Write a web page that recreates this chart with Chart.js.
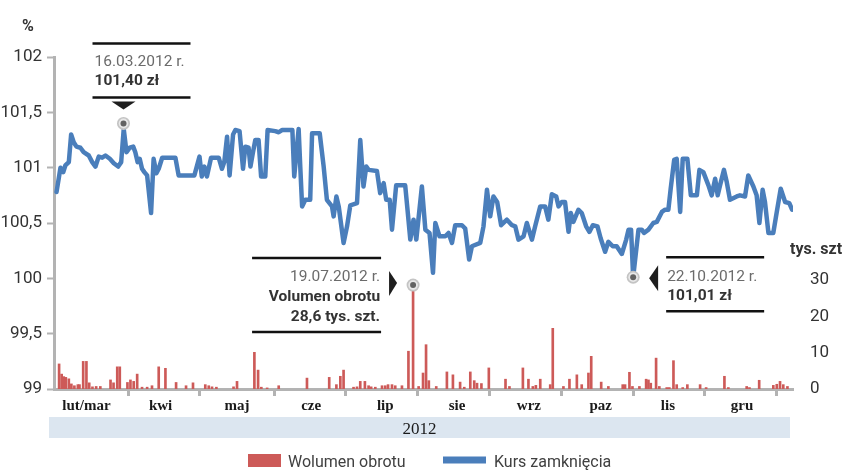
<!DOCTYPE html>
<html>
<head>
<meta charset="utf-8">
<script src="https://cdn.jsdelivr.net/npm/chart.js@4.4.1/dist/chart.umd.min.js"></script>
<style>
  body { margin: 0; background: #fff; }
  #wrap { width: 843px; height: 472px; }
</style>
</head>
<body>
<div id="wrap"><canvas id="wykres" width="843" height="472"></canvas></div>
<script>
// dzień roku 2012 (0 = 1 stycznia) i kurs zamknięcia w %
const kursDni = [
  46.1, 47.8, 49.0, 49.9, 51.4, 52.4, 53.5, 54.7, 56.4, 57.8,
  60.0, 61.5, 62.9, 64.3, 65.8, 67.2, 69.1, 70.8, 72.7, 74.0,
  75.1, 76.3, 77.7, 79.2, 80.1, 81.1, 82.0, 83.0, 84.0, 85.2,
  86.9, 88.0, 89.2, 90.2, 91.7, 97.4, 98.8, 105.6, 107.8, 108.8,
  109.9, 111.0, 112.8, 116.1, 117.5, 118.5, 119.7, 120.8, 122.3, 123.3,
  125.1, 126.6, 127.6, 129.0, 129.8, 130.9, 131.9, 133.3, 134.4, 136.2,
  137.2, 140.5, 142.0, 143.4, 147.9, 148.7, 150.6, 151.3, 152.1, 153.5,
  155.6, 156.4, 159.7, 161.4, 162.8, 165.0, 165.7, 166.9, 167.9, 170.0,
  171.5, 172.9, 175.8, 177.2, 178.6, 179.8, 180.8, 184.4, 185.8, 187.3,
  188.4, 189.9, 190.9, 192.7, 196.6, 197.6, 198.8, 200.2, 201.4, 203.8,
  205.3, 207.1, 208.6, 209.6, 211.4, 213.9, 215.3, 216.8, 218.2, 221.1,
  222.5, 224.2, 225.4, 229.0, 230.4, 231.9, 233.3, 234.7, 236.3, 238.0,
  240.5, 242.7, 244.1, 245.5, 247.7, 249.1, 251.3, 252.7, 254.9, 257.0,
  258.4, 259.9, 261.8, 262.8, 264.2, 265.6, 267.1, 268.1, 269.2, 271.4,
  272.8, 274.7, 276.1, 277.6, 279.6, 281.0, 282.9, 284.3, 286.2, 287.9,
  290.1, 292.0, 293.0, 294.1, 295.0, 297.3, 298.7, 299.7, 301.6, 303.7,
  305.2, 307.4, 308.8, 310.2, 311.2, 312.7, 313.8, 315.3, 316.4, 318.4,
  319.9, 322.5, 323.6, 325.3, 327.5, 328.9, 330.4, 331.5, 332.5, 334.2,
  335.4, 336.8, 339.7, 341.1, 343.3, 344.7, 346.9, 348.3, 349.5, 350.9,
  351.9, 353.4, 355.5, 357.0, 358.7, 360.6, 362.4, 363.6
];
const kursWartosci = [
  100.78, 101.00, 100.96, 101.02, 101.05, 101.30, 101.23, 101.19, 101.18, 101.14,
  101.11, 101.05, 101.01, 101.10, 101.09, 101.11, 101.08, 101.04, 101.01, 101.05,
  101.35, 101.14, 101.18, 101.19, 101.14, 101.05, 101.08, 100.99, 100.96, 100.93,
  100.59, 101.08, 100.95, 100.99, 101.09, 101.09, 100.93, 100.93, 101.10, 100.92,
  101.01, 100.92, 101.09, 101.09, 100.99, 101.05, 101.28, 100.93, 101.30, 101.34,
  101.33, 100.99, 101.19, 101.18, 101.01, 101.14, 101.25, 101.25, 100.92, 100.92,
  101.34, 101.33, 101.32, 101.34, 101.34, 100.92, 101.35, 101.01, 100.65, 100.71,
  100.71, 101.31, 101.31, 101.01, 100.71, 100.65, 100.56, 100.74, 100.65, 100.32,
  100.47, 100.66, 100.68, 101.25, 100.83, 101.01, 100.98, 100.97, 100.77, 100.86,
  100.71, 100.71, 100.44, 100.84, 100.84, 100.62, 100.35, 100.53, 100.35, 100.83,
  100.44, 100.41, 100.05, 100.50, 100.38, 100.38, 100.41, 100.32, 100.48, 100.48,
  100.45, 100.17, 100.29, 100.32, 100.47, 100.80, 100.56, 100.74, 100.69, 100.48,
  100.53, 100.48, 100.47, 100.35, 100.38, 100.50, 100.35, 100.47, 100.65, 100.65,
  100.53, 100.76, 100.74, 100.65, 100.69, 100.69, 100.42, 100.59, 100.51, 100.62,
  100.59, 100.47, 100.42, 100.48, 100.47, 100.36, 100.24, 100.33, 100.29, 100.29,
  100.22, 100.35, 100.44, 100.44, 100.01, 100.44, 100.44, 100.41, 100.44, 100.50,
  100.51, 100.60, 100.62, 100.62, 100.81, 101.07, 101.08, 100.60, 101.08, 101.08,
  100.75, 100.75, 100.98, 100.96, 100.84, 100.75, 100.90, 100.75, 100.84, 100.98,
  100.87, 100.71, 100.74, 100.75, 100.74, 100.93, 100.83, 100.75, 100.50, 100.80,
  100.69, 100.41, 100.41, 100.60, 100.81, 100.69, 100.68, 100.62
];

// wolumen obrotu, tys. szt.
const wolumenDni = [
  47.2, 48.3, 49.2, 50.1, 51.4, 52.5, 53.8, 55.3, 56.0, 57.6,
  59.0, 60.2, 61.6, 63.2, 65.0, 69.4, 70.7, 72.3, 73.4, 76.7,
  78.0, 79.4, 80.9, 83.0, 85.2, 87.3, 90.2, 93.1, 97.7, 102.0,
  105.0, 110.3, 111.8, 113.2, 115.1, 122.5, 124.0, 131.5, 133.1, 134.5,
  137.0, 142.0, 154.2, 163.8, 166.9, 168.6, 170.0, 174.3, 175.8, 177.2,
  179.2, 180.8, 181.9, 183.7, 186.6, 188.0, 189.2, 190.9, 192.3, 195.2,
  198.0, 200, 202.4, 204.3, 205.6, 206.8, 210.0, 214.6, 217.2, 220.3,
  222.1, 224.7, 226.4, 227.6, 229.5, 232.7, 239.9, 241.6, 247.4, 249.8,
  251.7, 253.0, 254.9, 259.2, 260.3, 264.9, 267.5, 270.7, 272.8, 275.7,
  276.9, 281.2, 284.3, 290.5, 291.5, 293.4, 294.7, 297.7, 300.6, 301.6,
  302.6, 304.9, 306.3, 309.5, 310.6, 312.4, 313.8, 316.4, 318.4, 323.9,
  326.5, 334.4, 336.1, 344.0, 345.2, 349.4, 355.5, 357.0, 358.4, 359.8,
  361.6
];
const wolumenWartosci = [
  6.9, 4.1, 3.4, 3.2, 2.8, 1.4, 0.9, 1.2, 1.2, 7.6,
  7.6, 1.7, 0.6, 0.7, 0.7, 2.5, 1.7, 6.1, 6.1, 1.8,
  2.5, 2.1, 4.1, 0.5, 0.5, 0.9, 6.1, 5.7, 1.8, 0.9,
  1.7, 1.2, 0.9, 0.6, 0.5, 0.6, 2.1, 10.1, 5.2, 0.5,
  0.3, 0.9, 3.0, 3.2, 1.2, 3.5, 5.2, 0.5, 0.6, 2.1,
  2.1, 0.9, 0.6, 0.5, 0.9, 0.9, 1.2, 1.2, 0.9, 0.9,
  10.4, 28.6, 0.7, 4.4, 12.2, 2.3, 0.7, 4.7, 3.9, 1.9,
  0.5, 4.7, 2.3, 1.6, 1.5, 5.8, 2.7, 0.7, 5.8, 2.7,
  0.7, 1.0, 2.7, 1.2, 16.7, 0.7, 2.7, 3.9, 1.2, 4.4,
  9.0, 1.9, 0.7, 1.2, 1.2, 4.6, 0.7, 0.7, 2.7, 2.5,
  1.6, 8.5, 0.7, 0.4, 0.4, 7.8, 1.2, 0.4, 1.2, 1.2,
  0.4, 3.5, 0.4, 0.7, 0.4, 2.4, 1.0, 1.3, 2.1, 1.2,
  0.7
];

// oś X: kreski podziałki i nazwy miesięcy między nimi
const granicePodzialki = [77, 108, 140, 171, 202, 233, 264, 295, 326, 357];
const miesiace = ['lut/mar', 'kwi', 'maj', 'cze', 'lip', 'sie', 'wrz', 'paz', 'lis', 'gru'];
const miesiaceDni = [59, 91, 124, 156, 188, 219, 250, 281, 310, 342];
const prawaOsTicks = [0, 10, 20, 30];

// opisane punkty
const notaMarzec = { dzien: 75, kurs: 101.40, data: '16.03.2012 r.', opis: ['101,40 zł'] };
const notaLipiec = { dzien: 200, wolumen: 28.6, data: '19.07.2012 r.', opis: ['Volumen obrotu', '28,6 tys. szt.'] };
const notaPazdziernik = { dzien: 295, kurs: 100.01, data: '22.10.2012 r.', opis: ['101,01 zł'] };

const NIEBIESKI = '#4a7ebb';
const CZERWONY = '#cd5a58';
const SZARY = '#b3b3b3';

const opisMiesiaca = new Map(miesiaceDni.map((d, i) => [d, miesiace[i]]));

function znacznik(ctx, x, y) {
  ctx.beginPath(); ctx.arc(x, y, 6.5, 0, Math.PI * 2); ctx.fillStyle = '#c4c4c4'; ctx.fill();
  ctx.beginPath(); ctx.arc(x, y, 4.8, 0, Math.PI * 2); ctx.fillStyle = '#e8e8e8'; ctx.fill();
  ctx.beginPath(); ctx.arc(x, y, 3, 0, Math.PI * 2); ctx.fillStyle = '#626262'; ctx.fill();
}

function kreska(ctx, x1, x2, y) {
  ctx.beginPath(); ctx.moveTo(x1, y); ctx.lineTo(x2, y);
  ctx.strokeStyle = '#111'; ctx.lineWidth = 2.5; ctx.stroke();
}

function trojkat(ctx, pts) {
  ctx.beginPath(); ctx.moveTo(pts[0], pts[1]); ctx.lineTo(pts[2], pts[3]); ctx.lineTo(pts[4], pts[5]);
  ctx.closePath(); ctx.fillStyle = '#1e1e1e'; ctx.fill();
}

const dodatki = {
  id: 'dodatki',
  afterDraw(chart) {
    const { ctx, chartArea: a, scales } = chart;
    const x = scales.x, y = scales.y, y2 = scales.y2;
    ctx.save();

    // jednostki osi
    ctx.fillStyle = '#333';
    ctx.font = 'bold 16px Roboto';
    ctx.textAlign = 'left';
    ctx.textBaseline = 'alphabetic';
    ctx.fillText('%', 22, a.top - 26);
    ctx.fillText('tys. szt.', a.right - 3, y2.getPixelForValue(30) - 26);

    // pasek z rokiem
    ctx.fillStyle = '#dce6f0';
    ctx.fillRect(a.left - 5, a.bottom + 28, a.right - a.left + 2, 21);
    ctx.fillStyle = '#1a1a1a';
    ctx.font = '17px "Liberation Serif"';
    ctx.textAlign = 'center';
    ctx.fillText('2012', (a.left + a.right) / 2 - 4, a.bottom + 45);

    // legenda
    ctx.textAlign = 'left';
    ctx.font = '16px Roboto';
    ctx.fillStyle = CZERWONY;
    ctx.fillRect(248, 454, 33, 13);
    ctx.fillStyle = '#404040';
    ctx.fillText('Wolumen obrotu', 288, 467);
    ctx.fillStyle = NIEBIESKI;
    ctx.fillRect(443, 456.5, 43, 7);
    ctx.fillStyle = '#404040';
    ctx.fillText('Kurs zamknięcia', 494, 467);

    // 16.03
    let px = x.getPixelForValue(notaMarzec.dzien), py = y.getPixelForValue(notaMarzec.kurs);
    kreska(ctx, px - 31, px + 67, py - 80);
    ctx.textAlign = 'left';
    ctx.font = '15.5px Roboto';
    ctx.fillStyle = '#6b6b6b';
    ctx.fillText(notaMarzec.data, px - 29, py - 57);
    ctx.font = 'bold 15.5px Roboto';
    ctx.fillStyle = '#333';
    ctx.fillText(notaMarzec.opis[0], px - 29, py - 38);
    kreska(ctx, px - 31, px + 67, py - 26);
    trojkat(ctx, [px - 12, py - 22, px + 12, py - 22, px, py - 14]);
    znacznik(ctx, px, py);

    // 19.07
    px = x.getPixelForValue(notaLipiec.dzien); py = y2.getPixelForValue(notaLipiec.wolumen);
    kreska(ctx, px - 161, px - 32, py - 27);
    ctx.textAlign = 'right';
    ctx.font = '15.5px Roboto';
    ctx.fillStyle = '#6b6b6b';
    ctx.fillText(notaLipiec.data, px - 33, py - 4);
    ctx.font = 'bold 15.5px Roboto';
    ctx.fillStyle = '#333';
    ctx.fillText(notaLipiec.opis[0], px - 33, py + 16);
    ctx.fillText(notaLipiec.opis[1], px - 33, py + 36);
    kreska(ctx, px - 161, px - 32, py + 47);
    trojkat(ctx, [px - 24, py - 14, px - 24, py + 11, px - 16, py - 2]);
    znacznik(ctx, px, py);

    // 22.10
    px = x.getPixelForValue(notaPazdziernik.dzien); py = y.getPixelForValue(notaPazdziernik.kurs);
    kreska(ctx, px + 33, px + 131, py - 20);
    ctx.textAlign = 'left';
    ctx.font = '15.5px Roboto';
    ctx.fillStyle = '#6b6b6b';
    ctx.fillText(notaPazdziernik.data, px + 34, py + 4);
    ctx.font = 'bold 15.5px Roboto';
    ctx.fillStyle = '#333';
    ctx.fillText(notaPazdziernik.opis[0], px + 34, py + 23);
    kreska(ctx, px + 33, px + 131, py + 34);
    trojkat(ctx, [px + 25, py - 12, px + 25, py + 14, px + 16, py + 1]);
    znacznik(ctx, px, py);

    ctx.restore();
  }
};

new Chart(document.getElementById('wykres'), {
  type: 'line',
  data: {
    datasets: [
      {
        label: 'Kurs zamknięcia',
        data: kursDni.map((d, i) => ({ x: d, y: kursWartosci[i] })),
        borderColor: NIEBIESKI,
        borderWidth: 4.5,
        borderJoinStyle: 'round',
        borderCapStyle: 'round',
        pointRadius: 0,
        tension: 0,
        yAxisID: 'y',
        order: 0
      },
      {
        type: 'bar',
        label: 'Wolumen obrotu',
        data: wolumenDni.map((d, i) => ({ x: d, y: wolumenWartosci[i] })),
        backgroundColor: CZERWONY,
        barThickness: 2,
        grouped: false,
        yAxisID: 'y2',
        order: 1
      }
    ]
  },
  plugins: [dodatki],
  options: {
    responsive: false,
    animation: false,
    layout: { padding: { top: 57, right: 0, bottom: 53, left: 0 } },
    plugins: {
      legend: { display: false },
      tooltip: { enabled: false }
    },
    scales: {
      x: {
        type: 'linear',
        min: 45,
        max: 364,
        offset: false,
        afterBuildTicks: s => {
          s.ticks = [...granicePodzialki, ...miesiaceDni].sort((p, q) => p - q).map(v => ({ value: v }));
        },
        ticks: {
          autoSkip: false,
          maxRotation: 0,
          padding: 1,
          color: '#1a1a1a',
          font: { family: 'Liberation Serif', size: 15, weight: 'bold' },
          callback: v => opisMiesiaca.get(v) || ''
        },
        grid: {
          offset: false,
          drawOnChartArea: false,
          tickLength: 7,
          tickWidth: 3,
          tickColor: c => (c.tick && granicePodzialki.includes(c.tick.value)) ? SZARY : 'rgba(0,0,0,0)'
        },
        border: { color: SZARY, width: 3 },
        afterFit: s => { s.height = 30; }
      },
      y: {
        position: 'left',
        min: 99,
        max: 102,
        ticks: {
          stepSize: 0.5,
          padding: 5,
          color: '#333',
          font: { family: 'Roboto', size: 17 },
          callback: v => String(v).replace('.', ',')
        },
        grid: { drawOnChartArea: false, tickLength: 7, tickWidth: 2, tickColor: SZARY },
        border: { color: SZARY, width: 3 },
        afterFit: s => { s.width = 54; }
      },
      y2: {
        position: 'right',
        min: 0,
        max: 91.4,
        afterBuildTicks: s => { s.ticks = prawaOsTicks.map(v => ({ value: v })); },
        ticks: {
          padding: 17,
          color: '#333',
          font: { family: 'Roboto', size: 17 }
        },
        grid: { display: false, drawTicks: false },
        border: { display: false },
        afterFit: s => { s.width = 50; }
      }
    }
  }
});
</script>
</body>
</html>
